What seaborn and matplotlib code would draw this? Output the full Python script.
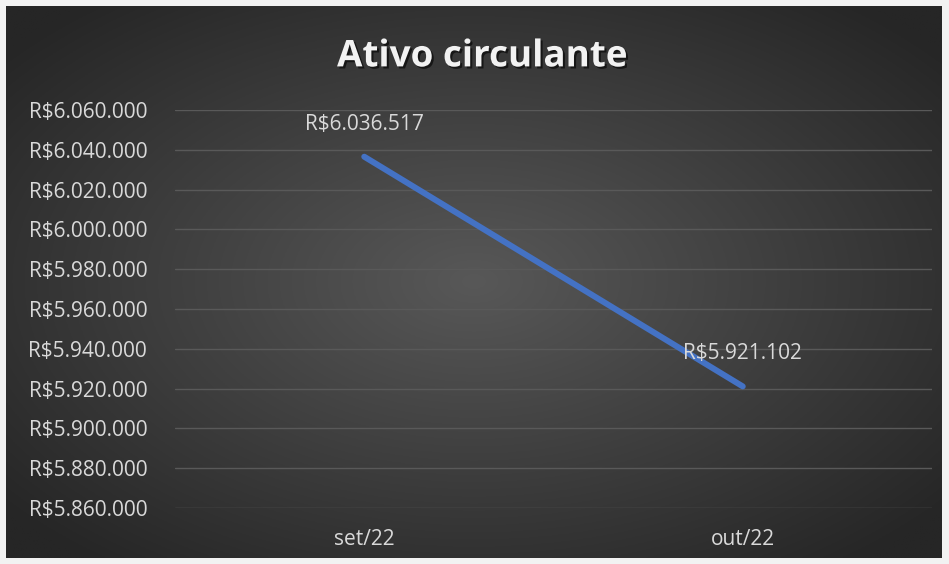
import numpy as np
import pandas as pd
import matplotlib
matplotlib.use("Agg")
import matplotlib.pyplot as plt
import matplotlib.patheffects as pe
from matplotlib.ticker import FuncFormatter, MultipleLocator
import seaborn as sns

# Dados do gráfico
meses = ["set/22", "out/22"]
ativo_circulante = [6036517, 5921102]

df = pd.DataFrame({"mes": meses, "valor": ativo_circulante})

sns.set_style("dark")
plt.rcParams["font.family"] = ["Open Sans", "DejaVu Sans"]


def formato_real(v, pos=None):
    return "R$" + f"{v:,.0f}".replace(",", ".")


fig = plt.figure(figsize=(9.49, 5.64), dpi=100)
fig.patch.set_facecolor("#f2f2f2")

# Fundo com gradiente radial (estilo Excel)
bg = fig.add_axes([0.0063, 0.0106, 0.986, 0.979])
yy, xx = np.mgrid[-1:1:300j, -1:1:500j]
r = np.clip(np.sqrt(xx**2 + yy**2) / 1.3, 0, 1)
centro, borda = np.array([88, 88, 88]) / 255, np.array([38, 38, 38]) / 255
img = centro[None, None, :] * (1 - r[..., None]) + borda[None, None, :] * r[..., None]
bg.imshow(img, aspect="auto", extent=[0, 1, 0, 1])
bg.set_axis_off()

ax = fig.add_axes([0.1844, 0.0993, 0.7977, 0.7057])
ax.set_facecolor("none")
sns.lineplot(data=df, x="mes", y="valor", ax=ax, color="#4472C4",
             linewidth=4.3, solid_capstyle="round", sort=False)

ax.set_xlim(-0.5, 1.5)
ax.set_ylim(5860000, 6060000)
ax.yaxis.set_major_locator(MultipleLocator(20000))
ax.yaxis.set_major_formatter(FuncFormatter(formato_real))
ax.grid(axis="y", color="#595959", linewidth=1.0)
ax.grid(axis="x", visible=False)
ax.set_axisbelow(True)
for s in ax.spines.values():
    s.set_visible(False)
ax.tick_params(axis="both", colors="#d9d9d9", labelsize=15, length=0)
ax.tick_params(axis="y", pad=20)
ax.tick_params(axis="x", pad=15)
ax.set_xlabel("")
ax.set_ylabel("")

# Rótulos de dados
for i, v in enumerate(ativo_circulante):
    ax.annotate(formato_real(v), (i, v), xytext=(0, 23.5), textcoords="offset points",
                ha="center", va="center", color="#d9d9d9", fontsize=15)

fig.text(0.508, 0.9, "Ativo circulante", ha="center", va="center",
         color="#f2f2f2", fontsize=26.5, fontweight="bold",
         path_effects=[pe.withSimplePatchShadow(offset=(1.5, -1.5), shadow_rgbFace="black", alpha=0.6)])

fig.savefig("out.png", dpi=100)
